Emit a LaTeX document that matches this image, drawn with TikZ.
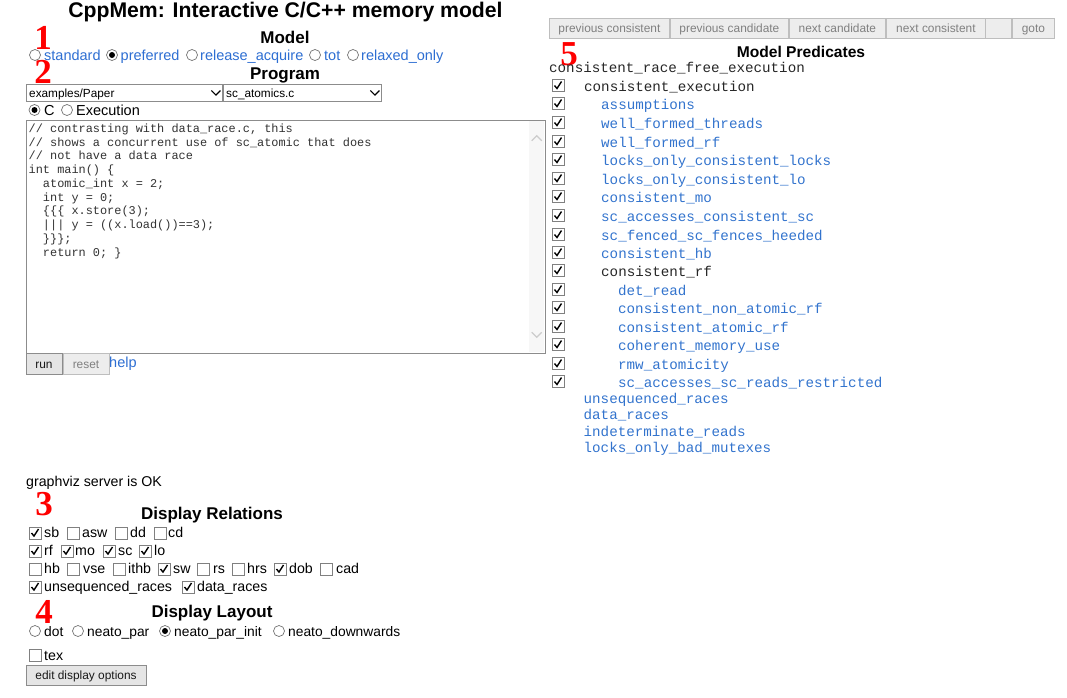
\documentclass[tikz,border=0pt]{standalone}
\usepackage{fontspec}
\setmainfont{Liberation Sans}
\setmonofont{Liberation Mono}
\newfontfamily\numfont{Liberation Serif}
\usepackage{tikz}
\usetikzlibrary{positioning}
\definecolor{linkblue}{RGB}{45,110,210}
\definecolor{predblue}{RGB}{50,115,205}
\definecolor{btnedge}{RGB}{190,190,190}
\begin{document}
\begin{tikzpicture}[x=1pt,y=-1pt,
heading/.style = {font=\fontsize{17}{17}\selectfont\bfseries, inner sep=0pt},
plain/.style = {font=\fontsize{14.2}{14.2}\selectfont, anchor=mid west, inner sep=0pt, yshift=-2pt},
link/.style = {plain, font=\fontsize{14.5}{14.5}\selectfont, text=linkblue},
mono/.style = {font=\fontsize{14.2}{14.2}\selectfont\ttfamily, anchor=mid west, inner sep=0pt, yshift=-2pt, text=black!85},
pred/.style = {mono, text=predblue},
code/.style = {font=\fontsize{11.9}{11.9}\selectfont\ttfamily, anchor=mid west, inner sep=0pt, yshift=-2pt, text=black!80},
tag/.style = {font=\fontsize{35}{35}\selectfont\numfont\bfseries, text=red, inner sep=0pt},
radio/.style = {circle, draw=black!55, line width=0.7pt, fill=white, minimum size=11pt, inner sep=0pt},
picked/.style = {radio, path picture={\fill[black] (path picture bounding box.center) circle (3pt);}},
tick/.style = {rectangle, draw=black!50, line width=0.8pt, fill=white, minimum size=12pt, inner sep=0pt},
ticked/.style = {tick, path picture={\draw[black, line width=1.4pt] ([shift={(2.5pt,6pt)}]path picture bounding box.south west) -- ++(2.5pt,-3pt) -- ++(4.5pt,7pt);}},
button/.style = {rectangle, draw=btnedge, thick, fill=black!7, text=black!50, inner sep=0pt,
	font=\fontsize{11.9}{11.9}\selectfont, text height=10pt, text depth=1.5pt, minimum height=20pt},
action/.style = {button, draw=black!45, fill=black!10, text=black!90, text height=10.5pt, text depth=1pt},
select/.style = {rectangle, draw=black!45, thick, fill=white, inner sep=0pt, minimum height=17pt},
choice/.style = {font=\fontsize{11.8}{11.8}\selectfont, anchor=mid west, inner sep=0pt, yshift=-2pt},
chevron/.style = {line width=1.2pt}]
\useasboundingbox (0,0) rectangle (1067,697);

% numbers
\node [tag] (tag1) at (43,38) {1};
\node [tag] (tag2) at (43,72) {2};
\node [tag] (tag3) at (44,504) {3};
\node [tag] (tag4) at (44,612) {4};
\node [tag] (tag5) at (569,54) {5};

\node [font=\fontsize{21.2}{21.2}\selectfont\bfseries, inner sep=0pt] (title) at (285.5,12) {CppMem: Interactive C/C++ memory model};
\node [heading] (model) at (285,37) {Model};
\node [heading] (program) at (285,75.5) {Program};
\node [heading] (relations) at (212,515) {Display Relations};
\node [heading] (layout) at (212,613) {Display Layout};
\node [heading, font=\fontsize{15.6}{15.6}\selectfont\bfseries] (predicates) at (801,51.5) {Model Predicates};

% model radios
\foreach \rx/\tx/\lab/\sty [count=\i] in {35/44/standard/radio,112/120.5/preferred/picked,192/200/release\_acquire/radio,315/324/tot/radio,353/361/relaxed\_only/radio}
{
	\node [\sty] (modelradio\i) at (\rx,55) {};
	\node [link] (modellabel\i) at (\tx,56) {\lab};
}

% program area
\node [select, minimum width=196pt] (folder) at (124,92.5) {};
\node [select, minimum width=158pt] (file) at (302,92.5) {};
\node [choice] (foldertext) at (29,92.5) {examples/Paper};
\node [choice] (filetext) at (226,92.5) {sc\_atomics.c};
\draw [chevron] ([xshift=-11pt,yshift=2pt]folder.east) -- ++(4.5pt,-4.5pt) -- ++(4.5pt,4.5pt);
\draw [chevron] ([xshift=-11pt,yshift=2pt]file.east) -- ++(4.5pt,-4.5pt) -- ++(4.5pt,4.5pt);
\node [picked] (cradio) at (34.5,110) {};
\node [link, text=black] (clabel) at (44,111) {C};
\node [radio] (execradio) at (67,110) {};
\node [link, text=black] (execlabel) at (76,111) {Execution};

\node [rectangle, draw=black!45, thick, fill=white, minimum width=519pt, minimum height=233pt, inner sep=0pt] (source) at (285.5,236.5) {};
\node [rectangle, fill=black!3, minimum width=15pt, minimum height=231pt, inner sep=0pt, anchor=east] (scrollbar) at ([xshift=-1pt]source.east) {};
\draw [chevron, black!20] ([yshift=-20pt]scrollbar.north) ++(-5pt,0) -- ++(5pt,5pt) -- ++(5pt,-5pt);
\draw [chevron, black!20] ([yshift=20pt]scrollbar.south) ++(-5pt,0) -- ++(5pt,-5pt) -- ++(5pt,5pt);
\foreach \line/\ypos [count=\i] in {
	{// contrasting with data\_race.c, this}/128,
	{// shows a concurrent use of sc\_atomic that does}/142,
	{// not have a data race}/155,
	{int main() \{}/169,
	{\ \ atomic\_int x = 2;}/183,
	{\ \ int y = 0;}/197,
	{\ \ \{\{\{ x.store(3);}/210,
	{\ \ ||| y = ((x.load())==3);}/224,
	{\ \ \}\}\};}/238,
	{\ \ return 0; \}}/252}
	\node [code] (codeline\i) at (28.5,\ypos) {\line};

\node [action, minimum width=36pt, minimum height=21pt] (run) at (44,363.5) {run};
\node [button, text height=10.5pt, text depth=1pt, minimum width=46pt, minimum height=21pt] (reset) at (86,363.5) {reset};
\node [link] (help) at (109,363) {help};

% navigation
\foreach \xa/\xb/\lab [count=\i] in {549/669/previous consistent,670/788/previous candidate,789/885/next candidate,886/985/next consistent,985/1011/{},1012/1054/goto}
	\node [button, minimum width=\xb-\xa, anchor=west] (nav\i) at (\xa,28) {\lab};

% predicates
\node [mono] (racefree) at (549,68) {consistent\_race\_free\_execution};
\foreach \xpos/\ypos/\lab/\sty [count=\i] in {
	584/87/consistent\_execution/mono,
	601/105/assumptions/pred,
	601/124/well\_formed\_threads/pred,
	601/143/well\_formed\_rf/pred,
	601/161/locks\_only\_consistent\_locks/pred,
	601/180/locks\_only\_consistent\_lo/pred,
	601/198/consistent\_mo/pred,
	601/217/sc\_accesses\_consistent\_sc/pred,
	601/236/sc\_fenced\_sc\_fences\_heeded/pred,
	601/254/consistent\_hb/pred,
	601/272/consistent\_rf/mono,
	618/291/det\_read/pred,
	618/309/consistent\_non\_atomic\_rf/pred,
	618/328/consistent\_atomic\_rf/pred,
	618/346/coherent\_memory\_use/pred,
	618/365/rmw\_atomicity/pred,
	618/383/sc\_accesses\_sc\_reads\_restricted/pred}
{
	\node [ticked] (predtick\i) at (558,\ypos-1.5) {};
	\node [\sty] (predname\i) at (\xpos,\ypos) {\lab};
}
\foreach \ypos/\lab [count=\i] in {399/unsequenced\_races,415/data\_races,432/indeterminate\_reads,448/locks\_only\_bad\_mutexes}
	\node [pred] (race\i) at (583.5,\ypos) {\lab};

\node [plain] (server) at (26,482) {graphviz server is OK};

% display relations
\foreach \bx/\tx/\ypos/\lab/\sty [count=\i] in {
	35/44/533/sb/ticked,73/82/533/asw/tick,121/130/533/dd/tick,160/168/533/cd/tick,
	35/44/551/rf/ticked,67/75/551/mo/ticked,109/118/551/sc/ticked,145/154/551/lo/ticked,
	35/44/569/hb/tick,73/83/569/vse/tick,119/128/569/ithb/tick,164/173/569/sw/ticked,
	203/213/569/rs/tick,238/247/569/hrs/tick,280/289/569/dob/ticked,326/336/569/cad/tick,
	35/44/587/unsequenced\_races/ticked,188/197/587/data\_races/ticked}
{
	\node [\sty] (reltick\i) at (\bx,\ypos) {};
	\node [plain] (rellabel\i) at (\tx,\ypos) {\lab};
}

% display layout
\foreach \rx/\tx/\lab/\sty [count=\i] in {35/44/dot/radio,78/87/neato\_par/radio,165/174/neato\_par\_init/picked,279/288/neato\_downwards/radio}
{
	\node [\sty] (layoutradio\i) at (\rx,631) {};
	\node [plain, font=\fontsize{13.8}{13.8}\selectfont] (layoutlabel\i) at (\tx,631.5) {\lab};
}
\node [tick] (textick) at (35,655) {};
\node [plain] (texlabel) at (44,655.5) {tex};
\node [action, minimum width=120pt] (edit) at (86,675) {edit display options};

\end{tikzpicture}
\end{document}
